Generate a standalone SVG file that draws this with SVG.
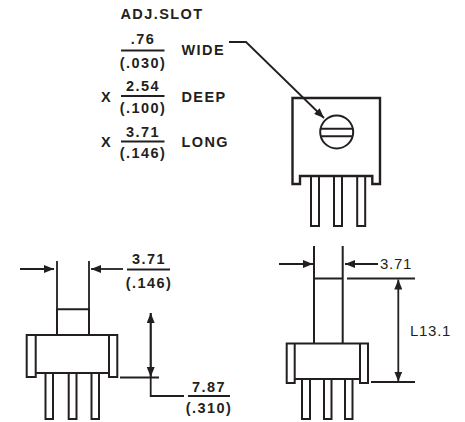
<svg xmlns="http://www.w3.org/2000/svg" width="465" height="422" viewBox="0 0 465 422">
<style>
.l{fill:none;stroke:#231f20;stroke-width:2}
.t{stroke-width:2.4}
.d{fill:none;stroke:#231f20;stroke-width:1.8}
text{font-family:"Liberation Sans",Arial,sans-serif;fill:#231f20}
.b{font-size:14.5px;font-weight:bold;letter-spacing:1.4px}
.m{text-anchor:middle}
.n{font-size:15px;letter-spacing:.7px}
</style>
<defs>
<marker id="a" viewBox="0 0 10 8" refX="10" refY="4" markerWidth="10" markerHeight="8" markerUnits="userSpaceOnUse" orient="auto-start-reverse"><path d="M0 0L10 4L0 8Z" fill="#231f20"/></marker>
</defs>
<rect width="465" height="422" fill="#fff"/>
<g id="labels">
<text class="b" x="120.500" y="18.500">ADJ.SLOT</text>
<text class="b m" x="143" y="43.700">.76</text>
<text class="b m" x="143" y="68">(.030)</text>
<text class="b m" x="143" y="91">2.54</text>
<text class="b m" x="143" y="113">(.100)</text>
<text class="b m" x="143" y="136.500">3.71</text>
<text class="b m" x="143" y="158">(.146)</text>
<text class="b" x="181.500" y="55">WIDE</text>
<text class="b" x="181.500" y="101.500">DEEP</text>
<text class="b" x="181.500" y="146.500">LONG</text>
<text class="b" x="101" y="102">X</text>
<text class="b" x="101" y="147">X</text>
<path class="l" d="M121 50.500H164.500M121 96H164.500M121 141.500H164.500"/>
</g>
<g id="top-view">
<path class="l t" d="M300 176V184H292.500V98H380V184H372.300V176Z"/>
<circle class="l" cx="336.700" cy="132" r="16.500"/>
<path class="l" d="M320.500 128.700H353M320.500 136.300H353"/>
<path class="l" d="M311 176.500V226H319V176.500M334 176.500V226H342V176.500M357.200 176.500V226H365.200V176.500"/>
</g>
<g id="side-view-left">
<path class="l" d="M57 335V309.300H89V335"/>
<path class="l" d="M35.700 373V377H26.700V335H117.300V377H109V373M35.700 335V373H109V335"/>
<path class="l" d="M45.500 373V419H53V373M68.700 373V419H76.500V373M91.500 373V419H99V373"/>
</g>
<g id="side-view-right">
<path class="l" d="M314 343V246M342.700 343V246M314 278.500H342.700"/>
<path class="l" d="M294.700 379V383H286.700V343.500H368V383H360V379M294.700 343.500V379H360V343.500"/>
<path class="l" d="M302 379V419H310V379M324 379V419H331.500V379M345 379V419H352.500V379"/>
</g>
<g id="connectors">
<path class="d" d="M229 42H246L324 118" marker-end="url(#a)"/>
<path class="d" d="M57 261V309M89 261V309"/>
<path class="d" d="M20 269H54" marker-end="url(#a)"/>
<path class="d" d="M123 269H91" marker-end="url(#a)"/>
<path class="d" d="M127 269.500H170"/>
<path class="d" d="M150.700 377V313" marker-end="url(#a)"/>
<path class="d" d="M150.700 313V377" marker-end="url(#a)"/>
<path class="d" d="M120 377.500H159M150.700 377V396H184M188 396H230"/>
<path class="d" d="M279 264H313" marker-end="url(#a)"/>
<path class="d" d="M378 264H345" marker-end="url(#a)"/>
<path class="d" d="M347 278.500H415M371 382H415"/>
<path class="d" d="M398.300 330V279.500" marker-end="url(#a)"/>
<path class="d" d="M398.300 330V381.500" marker-end="url(#a)"/>
</g>
<g id="dim-labels">
<text class="b m" x="149" y="264">3.71</text>
<text class="b m" x="149" y="288">(.146)</text>
<text class="b m" x="209" y="391.500">7.87</text>
<text class="b m" x="209" y="413">(.310)</text>
<text class="n" x="380" y="269">3.71</text>
<text class="n" x="410" y="336">L13.1</text>
</g>
</svg>
